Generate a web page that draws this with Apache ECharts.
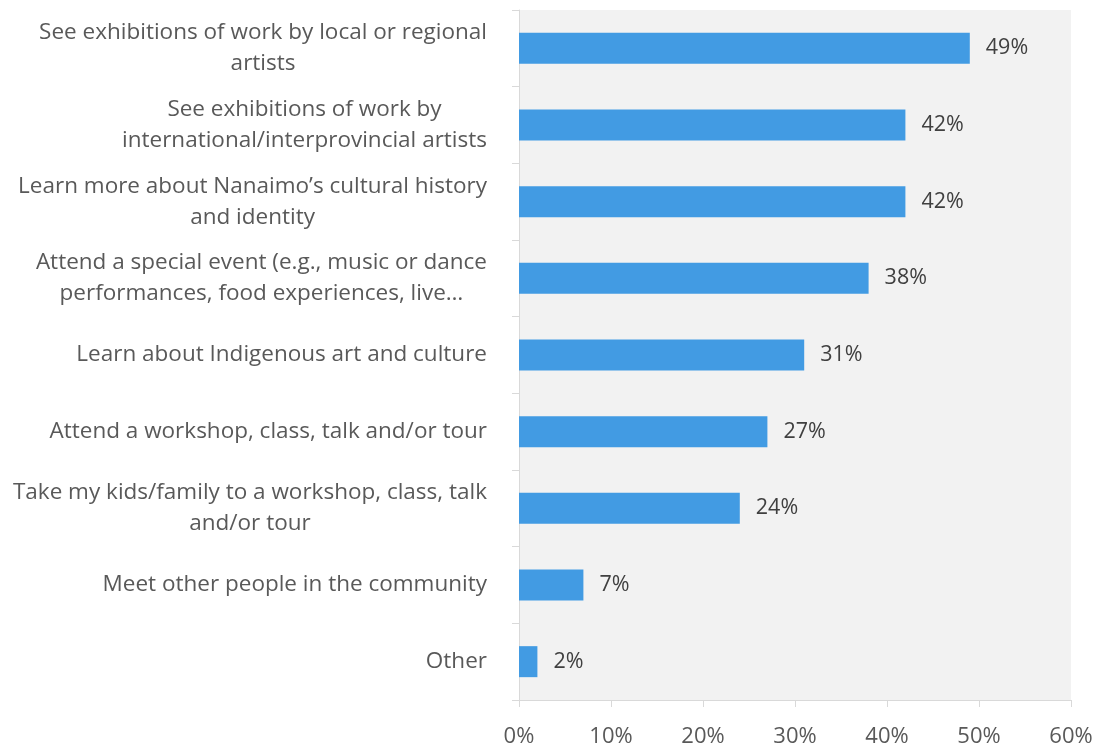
<!DOCTYPE html>
<html>
<head>
<meta charset="utf-8">
<script src="https://cdn.jsdelivr.net/npm/echarts@6/dist/echarts.min.js"></script>
<style>
  html, body { margin: 0; padding: 0; background: #ffffff; }
  #chart { width: 1099px; height: 746px; }
</style>
</head>
<body>
<div id="chart"></div>
<script>
// Reasons for visiting, share of respondents
const categories = [
  'See exhibitions of work by local or regional\nartists',
  'See exhibitions of work by\ninternational/interprovincial artists',
  'Learn more about Nanaimo\u2019s cultural history\nand identity',
  'Attend a special event (e.g., music or dance\nperformances, food experiences, live\u2026',
  'Learn about Indigenous art and culture',
  'Attend a workshop, class, talk and/or tour',
  'Take my kids/family to a workshop, class, talk\nand/or tour',
  'Meet other people in the community',
  'Other'
];
const percentValues = [49, 42, 42, 38, 31, 27, 24, 7, 2];
const xTickValues = [0, 10, 20, 30, 40, 50, 60];

const FONT = '"Open Sans", "Noto Sans", sans-serif';
const chart = echarts.init(document.getElementById('chart'), null, { renderer: 'canvas' });

chart.setOption({
  animation: false,
  backgroundColor: '#ffffff',
  grid: {
    left: 519, right: 28, top: 10, bottom: 46,
    outerBoundsMode: 'none',
    containLabel: false,
    show: true, backgroundColor: '#f2f2f2', borderWidth: 0
  },
  xAxis: {
    type: 'value',
    min: xTickValues[0],
    max: xTickValues[xTickValues.length - 1],
    interval: 10,
    axisLine: { show: true, lineStyle: { color: '#d9d9d9', width: 1 } },
    axisTick: { show: true, length: 7, lineStyle: { color: '#d9d9d9' } },
    splitLine: { show: false },
    axisLabel: {
      formatter: v => v + '%',
      color: '#595959', fontFamily: FONT, fontSize: 22, margin: 26
    }
  },
  yAxis: {
    type: 'category',
    inverse: true,
    data: categories,
    axisLine: { show: true, lineStyle: { color: '#d9d9d9', width: 1 } },
    axisTick: { show: true, length: 7, alignWithLabel: false, lineStyle: { color: '#d9d9d9' } },
    axisLabel: {
      margin: 32,
      color: '#595959', fontFamily: FONT, fontSize: 22.5, lineHeight: 31,
      formatter: v => v.split('\n').map(l => '{c|' + l + '}').join('\n'),
      rich: {
        c: { align: 'center', color: '#595959', fontFamily: FONT, fontSize: 22.5, lineHeight: 31 }
      }
    }
  },
  series: [{
    type: 'bar',
    data: percentValues,
    barWidth: 31,
    itemStyle: { color: '#429be3' },
    label: {
      show: true,
      position: 'right',
      distance: 16,
      formatter: p => p.value + '%',
      color: '#404040', fontFamily: FONT, fontSize: 21.5
    }
  }]
});
</script>
</body>
</html>
